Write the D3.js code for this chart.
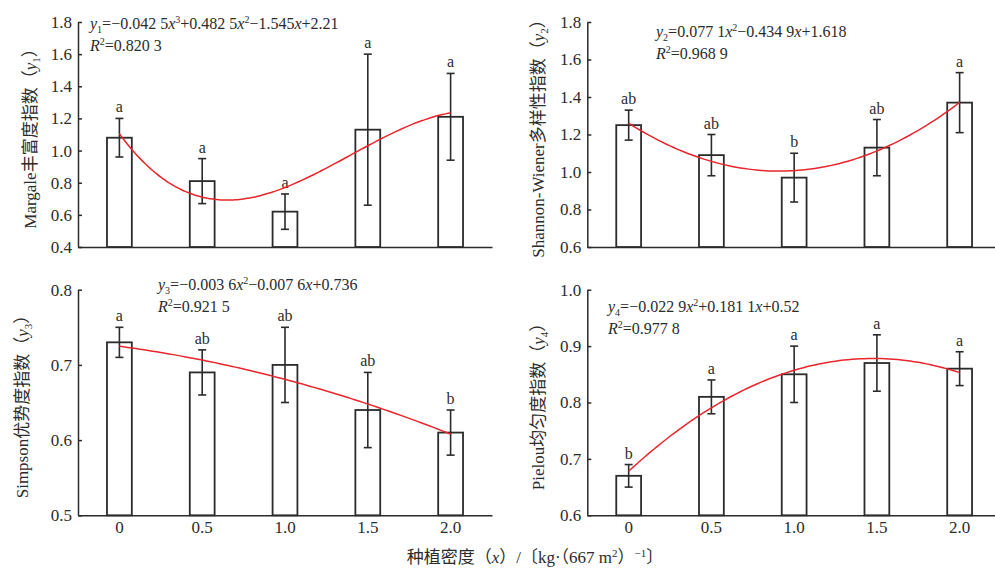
<!DOCTYPE html>
<html>
<head>
<meta charset="utf-8">
<script src="https://cdn.jsdelivr.net/npm/d3@7"></script>
<style>
  body { margin: 0; background: #fff; }
</style>
</head>
<body>
<div id="chart"></div>
<script>
// Planting density categories (x axis)
var densities = ["0", "0.5", "1.0", "1.5", "2.0"];

// Margale richness index
var margaleMean = [1.08, 0.81, 0.62, 1.13, 1.21];
var margaleErr = [0.12, 0.14, 0.11, 0.47, 0.27];
var margaleSig = ["a", "a", "a", "a", "a"];
var margaleCoef = [2.21, -1.545, 0.4825, -0.0425];   // c0 + c1 x + c2 x^2 + c3 x^3
var margaleTicks = [0.4, 0.6, 0.8, 1.0, 1.2, 1.4, 1.6, 1.8];

// Shannon-Wiener diversity index
var shannonMean = [1.25, 1.09, 0.97, 1.13, 1.37];
var shannonErr = [0.08, 0.11, 0.13, 0.15, 0.16];
var shannonSig = ["ab", "ab", "b", "ab", "a"];
var shannonCoef = [1.618, -0.4349, 0.0771];
var shannonTicks = [0.6, 0.8, 1.0, 1.2, 1.4, 1.6, 1.8];

// Simpson dominance index
var simpsonMean = [0.73, 0.69, 0.70, 0.64, 0.61];
var simpsonErr = [0.02, 0.03, 0.05, 0.05, 0.03];
var simpsonSig = ["a", "ab", "ab", "ab", "b"];
var simpsonCoef = [0.736, -0.0076, -0.0036];
var simpsonTicks = [0.5, 0.6, 0.7, 0.8];

// Pielou evenness index
var pielouMean = [0.67, 0.81, 0.85, 0.87, 0.86];
var pielouErr = [0.02, 0.03, 0.05, 0.05, 0.03];
var pielouSig = ["b", "a", "a", "a", "a"];
var pielouCoef = [0.52, 0.1811, -0.0229];
var pielouTicks = [0.6, 0.7, 0.8, 0.9, 1.0];

var width = 995, height = 569;
var ink = "#2b2b2b";
var fontFam = "'Liberation Serif', 'Times New Roman', 'Noto Sans CJK SC', serif";

var svg = d3.select("#chart").append("svg")
    .attr("width", width)
    .attr("height", height)
    .style("font-family", fontFam);

// writes a text made of pieces: "" normal, "i" italic, "sub", "sup"
function richText(sel, parts, subSize) {
    var shift = 0;
    sel.style("font-family", fontFam).attr("fill", ink);
    parts.forEach(function(p) {
        var t = sel.append("tspan").text(p[0]);
        var want = 0;
        if (p[1] == "sub") want = 4;
        if (p[1] == "sup") want = -6;
        if (want != shift) { t.attr("dy", want - shift); shift = want; }
        if (p[1] == "i") t.style("font-style", "italic");
        if (p[1] == "sub" || p[1] == "sup") t.style("font-size", subSize + "px");
    });
}

function drawPanel(cfg) {
    var g = svg.append("g");

    var x = d3.scaleBand()
        .domain(densities)
        .range([cfg.left, cfg.right])
        .paddingInner(0.7)
        .paddingOuter(0.35);
    var y = d3.scaleLinear()
        .domain(cfg.domain)
        .range([cfg.bottom, cfg.top]);

    // y axis, ticks point inward
    var yAxis = d3.axisLeft(y)
        .tickValues(cfg.ticks)
        .tickFormat(d3.format(".1f"))
        .tickSizeInner(-4)
        .tickSizeOuter(0)
        .tickPadding(6);
    var ya = g.append("g")
        .attr("transform", "translate(" + cfg.left + ",0)")
        .call(yAxis)
        .attr("font-family", null);
    ya.selectAll("text").style("font-size", "17px").style("font-family", fontFam).attr("fill", ink);
    ya.selectAll("path, line").attr("stroke", ink).attr("stroke-width", 1.5);

    // x axis
    var xAxis = d3.axisBottom(x)
        .tickSize(0)
        .tickPadding(6)
        .tickFormat(cfg.xLabels ? null : "");
    var xa = g.append("g")
        .attr("transform", "translate(0," + cfg.bottom + ")")
        .call(xAxis)
        .attr("font-family", null);
    xa.selectAll("text").style("font-size", "17px").style("font-family", fontFam).attr("fill", ink);
    xa.selectAll("path").attr("stroke", ink).attr("stroke-width", 1.5);

    var rows = densities.map(function(d, i) {
        return { cat: d, mean: cfg.mean[i], err: cfg.err[i], sig: cfg.sig[i] };
    });

    // bars
    g.selectAll(".bar").data(rows).enter().append("rect")
        .attr("class", "bar")
        .attr("x", function(d) { return x(d.cat); })
        .attr("width", x.bandwidth())
        .attr("y", function(d) { return y(d.mean); })
        .attr("height", function(d) { return cfg.bottom - y(d.mean); })
        .attr("fill", "#fff")
        .attr("stroke", ink)
        .attr("stroke-width", 1.8);

    // error bars
    var cx = function(d) { return x(d.cat) + x.bandwidth() / 2; };
    var eb = g.selectAll(".err").data(rows).enter().append("g").attr("class", "err")
        .attr("stroke", ink).attr("stroke-width", 1.6);
    eb.append("line")
        .attr("x1", cx).attr("x2", cx)
        .attr("y1", function(d) { return y(d.mean + d.err); })
        .attr("y2", function(d) { return y(d.mean - d.err); });
    eb.append("line")
        .attr("x1", function(d) { return cx(d) - 4; })
        .attr("x2", function(d) { return cx(d) + 4; })
        .attr("y1", function(d) { return y(d.mean + d.err); })
        .attr("y2", function(d) { return y(d.mean + d.err); });
    eb.append("line")
        .attr("x1", function(d) { return cx(d) - 4; })
        .attr("x2", function(d) { return cx(d) + 4; })
        .attr("y1", function(d) { return y(d.mean - d.err); })
        .attr("y2", function(d) { return y(d.mean - d.err); });

    // significance letters
    g.selectAll(".sig").data(rows).enter().append("text")
        .attr("class", "sig")
        .attr("x", cx)
        .attr("y", function(d) { return y(d.mean + d.err) - 6; })
        .attr("text-anchor", "middle")
        .attr("fill", ink)
        .style("font-family", fontFam)
        .style("font-size", "16px")
        .text(function(d) { return d.sig; });

    // fitted curve, x in the equation is the treatment number 1..5
    var tx = d3.scaleLinear().domain([1, 5])
        .range([cx(rows[0]), cx(rows[4])]);
    var poly = function(t) {
        return cfg.coef.reduce(function(s, c, k) { return s + c * Math.pow(t, k); }, 0);
    };
    var line = d3.line()
        .x(function(t) { return tx(t); })
        .y(function(t) { return y(poly(t)); })
        .curve(d3.curveBasis);
    g.append("path")
        .datum(d3.range(1, 5.0001, 0.05))
        .attr("d", line)
        .attr("fill", "none")
        .attr("stroke", "#e8262b")
        .attr("stroke-width", 1.5);

    // equation text
    var eq = g.append("text")
        .attr("x", cfg.eqX).attr("y", cfg.eqY)
        .style("font-size", "16px");
    richText(eq, cfg.eq, 10);
    var r2 = g.append("text")
        .attr("x", cfg.eqX).attr("y", cfg.eqY + 22)
        .style("font-size", "16px");
    richText(r2, [["R", "i"], ["2", "sup"], ["=" + cfg.r2, ""]], 10);

    // y axis title
    var yt = g.append("text")
        .attr("transform", "translate(" + cfg.titleX + "," + ((cfg.top + cfg.bottom) / 2) + ")rotate(-90)")
        .attr("text-anchor", "middle")
        .style("font-size", "17px");
    richText(yt, [[cfg.title + "（", ""], ["y", "i"], [cfg.sub, "sub"], ["）", ""]], 11);
}

drawPanel({
    left: 78, right: 492, top: 22, bottom: 247,
    domain: [0.4, 1.8], ticks: margaleTicks,
    mean: margaleMean, err: margaleErr, sig: margaleSig, coef: margaleCoef,
    eqX: 90, eqY: 29, r2: "0.820 3",
    eq: [["y", "i"], ["1", "sub"], ["=−0.042 5", ""], ["x", "i"], ["3", "sup"], ["+0.482 5", ""],
         ["x", "i"], ["2", "sup"], ["−1.545", ""], ["x", "i"], ["+2.21", ""]],
    title: "Margale丰富度指数", sub: "1", titleX: 36, xLabels: false
});

drawPanel({
    left: 587.3, right: 1001, top: 22, bottom: 247,
    domain: [0.6, 1.8], ticks: shannonTicks,
    mean: shannonMean, err: shannonErr, sig: shannonSig, coef: shannonCoef,
    eqX: 656, eqY: 37, r2: "0.968 9",
    eq: [["y", "i"], ["2", "sub"], ["=0.077 1", ""], ["x", "i"], ["2", "sup"], ["−0.434 9", ""],
         ["x", "i"], ["+1.618", ""]],
    title: "Shannon-Wiener多样性指数", sub: "2", titleX: 544, xLabels: false
});

drawPanel({
    left: 78, right: 492, top: 289.7, bottom: 515.3,
    domain: [0.5, 0.8], ticks: simpsonTicks,
    mean: simpsonMean, err: simpsonErr, sig: simpsonSig, coef: simpsonCoef,
    eqX: 158, eqY: 290, r2: "0.921 5",
    eq: [["y", "i"], ["3", "sub"], ["=−0.003 6", ""], ["x", "i"], ["2", "sup"], ["−0.007 6", ""],
         ["x", "i"], ["+0.736", ""]],
    title: "Simpson优势度指数", sub: "3", titleX: 28, xLabels: true
});

drawPanel({
    left: 587.3, right: 1001, top: 289.7, bottom: 515.3,
    domain: [0.6, 1.0], ticks: pielouTicks,
    mean: pielouMean, err: pielouErr, sig: pielouSig, coef: pielouCoef,
    eqX: 608, eqY: 312, r2: "0.977 8",
    eq: [["y", "i"], ["4", "sub"], ["=−0.022 9", ""], ["x", "i"], ["2", "sup"], ["+0.181 1", ""],
         ["x", "i"], ["+0.52", ""]],
    title: "Pielou均匀度指数", sub: "4", titleX: 544, xLabels: true
});

// shared x axis title
var xt = svg.append("text")
    .attr("x", 535).attr("y", 563)
    .attr("text-anchor", "middle")
    .style("font-size", "17px");
richText(xt, [["种植密度（", ""], ["x", "i"], ["）/〔kg·（667 m", ""], ["2", "sup"], ["）", ""],
              ["−1", "sup"], ["〕", ""]], 11);
</script>
</body>
</html>
